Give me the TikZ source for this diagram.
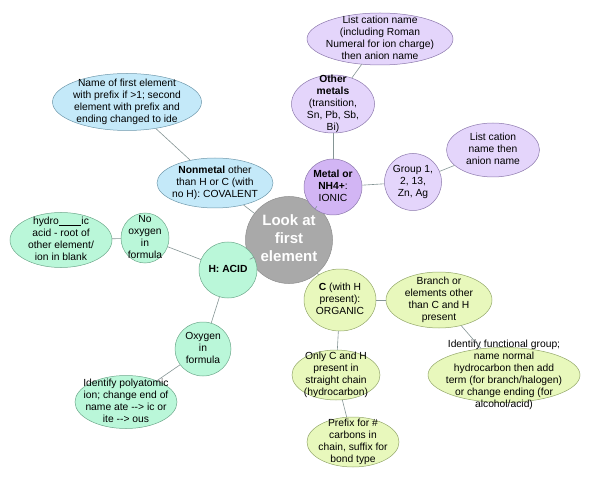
\documentclass[tikz,border=0pt]{standalone}
\usepackage{fontspec}
\setmainfont{Liberation Sans}
\usetikzlibrary{calc,shapes.geometric}

\definecolor{covfill}{HTML}{C4E9F9}
\definecolor{covedge}{HTML}{6F99AC}
\definecolor{ionfill}{HTML}{E4D5FB}
\definecolor{ionmain}{HTML}{D2B5F4}
\definecolor{ionedge}{HTML}{8C78AC}
\definecolor{acidfill}{HTML}{BAF7D9}
\definecolor{acidedge}{HTML}{6DA88B}
\definecolor{orgfill}{HTML}{E8F8BC}
\definecolor{orgedge}{HTML}{93A76A}
\definecolor{lookfill}{HTML}{A9A9A9}
\definecolor{lookedge}{HTML}{8E8E8E}
\definecolor{linkgray}{HTML}{859595}

% text set over the bubble, not widening it
\newcommand{\bubbletext}[1]{\makebox[0pt]{\smash{\raisebox{-0.25em}{\begin{tabular}{@{}c@{}}#1\end{tabular}}}}}

\begin{document}
\begin{tikzpicture}[x=1pt, y=1pt,
    every node/.style={ellipse, inner sep=0pt, line width=0.5pt, font=\fontsize{10.3}{12}\selectfont},
    covalent/.style={draw=covedge, fill=covfill},
    ionic/.style={draw=ionedge, fill=ionfill},
    acid/.style={draw=acidedge, fill=acidfill},
    organic/.style={draw=orgedge, fill=orgfill},
    link/.style={draw=linkgray, line width=0.6pt}]
    \useasboundingbox (0,0) rectangle (589,480);
    % Nodes
    \node (look) [circle, draw=lookedge, fill=lookfill, minimum size=87, text=white, font=\fontsize{15}{18}\selectfont\bfseries] at (289,240) {\bubbletext{Look at\\first\\element}};
    \node (nonmetal) [covalent, minimum width=116, minimum height=50] at ($(look)+(-74,57)$) {\bubbletext{\textbf{Nonmetal} other\\than H or C (with\\no H): COVALENT}};
    \node (namefirst) [covalent, minimum width=149, minimum height=57] at ($(nonmetal)+(-88,81)$) {\bubbletext{Name of first element\\with prefix if >1; second\\element with prefix and\\ending changed to ide}};
    \node (metal) [ionic, fill=ionmain, minimum width=58, minimum height=56] at ($(look)+(44,53)$) {\bubbletext{\textbf{Metal or}\\\textbf{NH4+}:\\IONIC}};
    \node (othermetals) [ionic, minimum width=83, minimum height=58] at ($(metal)+(0,83)$) {\bubbletext{\textbf{Other}\\\textbf{metals}\\(transition,\\Sn, Pb, Sb,\\Bi)}};
    \node (romanlist) [ionic, minimum width=146, minimum height=52] at ($(othermetals)+(47,65)$) {\bubbletext{List cation name\\(including Roman\\Numeral for ion charge)\\then anion name}};
    \node (group) [ionic, minimum width=57, minimum height=57] at ($(metal)+(80,5)$) {\bubbletext{Group 1,\\2, 13,\\Zn, Ag}};
    \node (cationlist) [ionic, minimum width=93, minimum height=54] at ($(group)+(80,32)$) {\bubbletext{List cation\\name then\\anion name}};
    \node (hacid) [acid, minimum width=58, minimum height=56] at ($(look)+(-61,-30)$) {\bubbletext{\textbf{H: ACID}}};
    \node (nooxygen) [acid, minimum width=48, minimum height=50] at ($(hacid)+(-83,32)$) {\bubbletext{No\\oxygen\\in\\formula}};
    \node (hydro) [acid, minimum width=102, minimum height=55] at ($(nooxygen)+(-84,-2)$) {\bubbletext{hydro\rule[-0.2ex]{2.2em}{0.4pt}ic\\acid - root of\\other element/\\ion in blank}};
    \node (oxygen) [acid, minimum width=56, minimum height=54] at ($(hacid)+(-25,-79)$) {\bubbletext{Oxygen\\in\\formula}};
    \node (polyatomic) [acid, minimum width=102, minimum height=53] at ($(oxygen)+(-77,-53)$) {\bubbletext{Identify polyatomic\\ion; change end of\\name ate -{}-> ic or\\ite -{}-> ous}};
    \node (corganic) [organic, minimum width=72, minimum height=62] at ($(look)+(51,-60)$) {\bubbletext{\textbf{C} (with H\\present):\\ORGANIC}};
    \node (branch) [organic, minimum width=106, minimum height=56] at ($(corganic)+(99,0)$) {\bubbletext{Branch or\\elements other\\than C and H\\present}};
    \node (functional) [organic, minimum width=152, minimum height=55] at ($(branch)+(65,-75)$) {\bubbletext{Identify functional group;\\name normal\\hydrocarbon then add\\term (for branch/halogen)\\or change ending (for\\alcohol/acid)}};
    \node (onlych) [organic, minimum width=88, minimum height=50] at ($(corganic)+(-4,-75)$) {\bubbletext{Only C and H\\present in\\straight chain\\(hydrocarbon)}};
    \node (prefix) [organic, minimum width=92, minimum height=50] at ($(onlych)+(17,-67)$) {\bubbletext{Prefix for \#\\carbons in\\chain, suffix for\\bond type}};

    % Paths
    \draw[link] (look) -- (nonmetal);
    \draw[link] (nonmetal) -- (namefirst);
    \draw[link] (look) -- (metal);
    \draw[link] (metal) -- (othermetals);
    \draw[link] (othermetals) -- (romanlist);
    \draw[link] (metal) -- (group);
    \draw[link] (group) -- (cationlist);
    \draw[link] (look) -- (hacid);
    \draw[link] (hacid) -- (nooxygen);
    \draw[link] (nooxygen) -- (hydro);
    \draw[link] (hacid) -- (oxygen);
    \draw[link] (oxygen) -- (polyatomic);
    \draw[link] (look) -- (corganic);
    \draw[link] (corganic) -- (branch);
    \draw[link] (branch) -- (functional);
    \draw[link] (corganic) -- (onlych);
    \draw[link] (onlych) -- (prefix);
\end{tikzpicture}
\end{document}
